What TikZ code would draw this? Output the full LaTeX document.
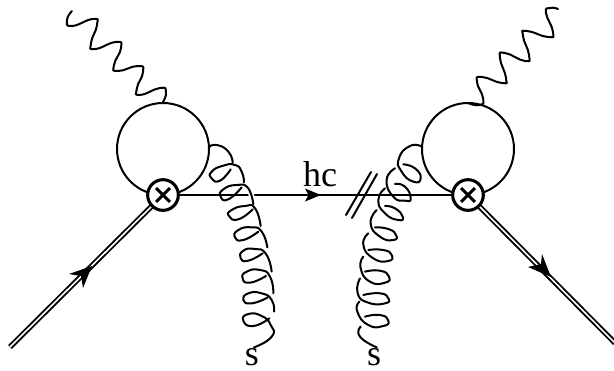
\documentclass[tikz,border=0pt]{standalone}
\usepackage{fontspec}
\setmainfont{Liberation Serif}
\tikzset{
  wire/.style={line width=1.5pt,line cap=round,line join=round},
  dbl/.style={line width=1.4pt,black,double=white,double distance=1.2pt},
  vert/.style={circle,draw,line width=2.3pt,fill=white,minimum size=23pt,inner sep=0pt,
    path picture={\draw[line width=2.3pt]
      ([shift={(-5.2pt,-5.2pt)}]path picture bounding box.center)--([shift={(5.2pt,5.2pt)}]path picture bounding box.center)
      ([shift={(-5.2pt,5.2pt)}]path picture bounding box.center)--([shift={(5.2pt,-5.2pt)}]path picture bounding box.center);}},
  blob/.style={circle,draw,line width=1.5pt,minimum size=69pt,inner sep=0pt},
  lab/.style={font=\fontsize{27}{27}\selectfont,inner sep=0pt,anchor=base},
  coil/.style={wire,smooth,tension=1},
  cover/.style={preaction={draw,white,line width=4pt}}
}
\begin{document}
\begin{tikzpicture}[x=0.75pt,y=-0.75pt]
\useasboundingbox (0,0) rectangle (614,371);
% loops
\node[blob] (loopL) at (163,149) {};
\node[blob] (loopR) at (468,149) {};
% named ends
\coordinate (inEnd) at (10,347);
\coordinate (outEnd) at (615,343);
\coordinate (slashA1) at (346,215); \coordinate (slashA2) at (371,172);
\coordinate (slashB1) at (352,218); \coordinate (slashB2) at (377,174);
\coordinate (vLpos) at (163,195);
\coordinate (vRpos) at (468,195);
% fermions
\draw[wire] (vLpos) -- (vRpos);
\draw[dbl] (inEnd) -- (vLpos);
\draw[dbl] (vRpos) -- (outEnd);
% arrowheads
\fill (321,195) -- (305,188.5) -- (308.5,195) -- (305,201.5) -- cycle;
\fill (92,266) -- (69,274) -- (81,276) -- (83,288) -- cycle;
\fill (551,277) -- (528,267) -- (541,264) -- (542,254) -- cycle;
% cut line
\draw[wire] (slashA1) -- (slashA2);
\draw[wire] (slashB1) -- (slashB2);
% left photon
\draw[coil] plot coordinates {(163,102) (166,92) (160,88) (140,95) (137,88) (143,72) (138,66) (118,71) (114,65) (121,48) (116,42) (95,49) (91,43) (97,25) (93,19) (72,26) (67,20) (72,11)};
% right photon
\draw[coil] plot coordinates {(468,103) (480,105) (483,98) (477,82) (482,77) (502,83) (506,78) (500,58) (505,53) (525,61) (529,55) (523,36) (527,31) (548,37) (553,32) (546,13) (550,8) (558,9)};
% left gluon (crop coordinates)
\begin{scope}[shift={(180,130)},scale=1/3]
\draw[coil] plot coordinates {(87,52) (110,45) (145,65) (158,98)};
\draw[coil] plot coordinates {(152,118) (120,152) (95,145) (95,125) (130,107) (165,105) (185,125) (192,157)};
\draw[coil] plot coordinates {(185,172) (145,208) (122,200) (130,178) (170,165) (205,175) (220,222)};
\draw[coil,cover] plot coordinates {(205,175) (214,195) (220,222)};
\draw[coil] plot coordinates {(218,238) (175,268) (147,258) (155,240) (195,228) (225,235) (242,288)};
\draw[coil] plot coordinates {(235,305) (190,330) (165,322) (175,300) (215,292) (245,305) (262,352)};
\draw[coil] plot coordinates {(248,370) (205,392) (182,385) (190,362) (225,357) (258,372) (275,425)};
\draw[coil] plot coordinates {(258,438) (210,458) (188,445) (200,425) (240,420) (270,440) (280,490)};
\draw[coil] plot coordinates {(262,503) (215,520) (190,510) (205,490) (245,490) (275,510) (282,545)};
\draw[coil] plot coordinates {(268,565) (220,588) (190,572) (205,552) (245,558) (272,585) (275,620) (222,652)};
\end{scope}
% right gluon (crop coordinates)
\begin{scope}[shift={(330,130)},scale=1/3]
\draw[coil] plot coordinates {(275,50) (240,48) (207,85) (215,125) (250,155) (272,145) (255,115) (220,103)};
\draw[coil] plot coordinates {(195,115) (170,150) (190,200) (225,212) (242,205) (225,170) (195,162)};
\draw[coil] plot coordinates {(165,175) (145,210) (165,250) (205,270) (218,260) (195,235) (165,228)};
\draw[coil] plot coordinates {(140,240) (122,280) (150,320) (190,330) (198,315) (175,297) (135,292)};
\draw[coil] plot coordinates {(115,310) (100,345) (130,385) (175,393) (185,375) (160,360) (115,360)};
\draw[coil] plot coordinates {(100,380) (92,415) (120,455) (165,458) (177,440) (150,422) (105,425)};
\draw[coil] plot coordinates {(90,445) (83,490) (115,518) (165,520) (175,505) (150,490) (100,495)};
\draw[coil] plot coordinates {(88,515) (82,545) (115,585) (160,588) (175,572) (150,555) (105,560)};
\draw[coil] plot coordinates {(92,590) (90,620) (140,652)};
\end{scope}
% vertices on top
\node[vert] (vL) at (vLpos) {};
\node[vert] (vR) at (vRpos) {};
% labels
\node[lab] (hc) at (320,186) {hc};
\node[lab] (sL) at (252,365) {s};
\node[lab] (sR) at (374,365) {s};
\end{tikzpicture}
\end{document}
